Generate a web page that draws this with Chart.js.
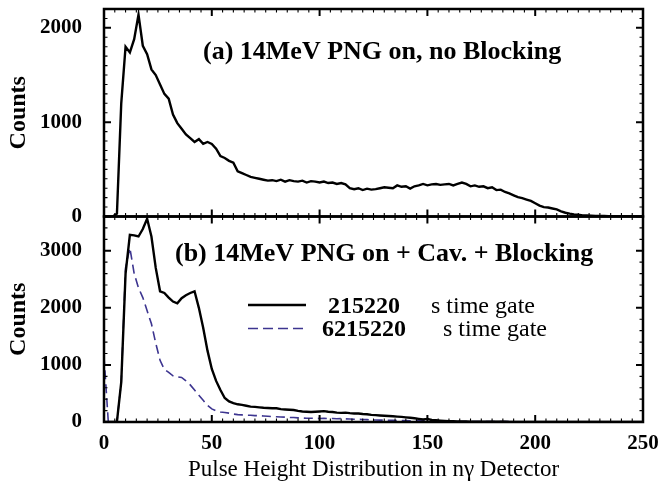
<!DOCTYPE html>
<html>
<head>
<meta charset="utf-8">
<script src="https://cdn.jsdelivr.net/npm/chart.js@4/dist/chart.umd.min.js"></script>
<style>
  html, body { margin: 0; padding: 0; background: #fff; }
</style>
</head>
<body>
<canvas id="pulse" width="660" height="485"></canvas>
<script>
// channel bins, 2 channels wide
const channels = Array.from({ length: 126 }, (_, i) => i * 2);

// (a) 14MeV PNG on, no blocking
const countsA = [
  0, 0, 0, 30, 1200, 1800, 1740, 1880, 2140, 1810,
  1720, 1560, 1500, 1400, 1300, 1250, 1080, 990, 930, 870,
  830, 790, 820, 770, 790, 770, 720, 640, 620, 590,
  570, 480, 460, 440, 420, 410, 400, 390, 380, 385,
  375, 390, 370, 385, 375, 370, 380, 360, 375, 370,
  360, 370, 355, 360, 345, 355, 340, 300, 290, 300,
  280, 295, 285, 290, 300, 310, 305, 300, 330, 315,
  320, 295, 320, 330, 345, 330, 340, 345, 335, 340,
  345, 330, 345, 360, 345, 320, 330, 315, 320, 300,
  310, 280, 285, 260, 245, 225, 205, 195, 180, 165,
  140, 115, 100, 95, 85, 75, 55, 40, 30, 22,
  18, 12, 10, 8, 6, 5, 5, 4, 3, 3,
  2, 2, 2, 1, 1, 1,
];

// (b) with cavity + blocking, solid gate
const countsB1 = [
  0, 0, 0, 5, 700, 2600, 3280, 3270, 3250, 3380,
  3560, 3250, 2700, 2290, 2260, 2180, 2110, 2080, 2170, 2220,
  2260, 2290, 2000, 1650, 1250, 930, 720, 560, 420, 360,
  330, 310, 300, 285, 270, 265, 257, 250, 245, 240,
  240, 225, 220, 215, 210, 195, 185, 180, 175, 180,
  185, 190, 180, 175, 165, 160, 165, 155, 150, 150,
  140, 135, 125, 120, 115, 110, 105, 100, 95, 90,
  82, 75, 65, 55, 45, 55, 35, 30, 25, 20,
  15, 12, 10, 8, 8, 7, 6, 6, 5, 5,
  5, 4, 4, 4, 3, 3, 3, 3, 3, 3,
  3, 2, 2, 2, 2, 2, 2, 2, 2, 2,
  2, 2, 2, 2, 2, 2, 2, 2, 2, 2,
  2, 2, 2, 2, 2, 2,
];

// (b) dashed gate
const countsB2 = [
  1150, 0, 0, 5, 700, 2700, 3050, 2600, 2350, 2180,
  1950, 1720, 1380, 1080, 920, 870, 810, 790, 780, 720,
  650, 560, 470, 380, 290, 230, 195, 175, 165, 155,
  140, 130, 125, 120, 118, 112, 110, 105, 100, 95,
  92, 88, 85, 80, 78, 72, 70, 66, 65, 64,
  62, 64, 60, 62, 58, 60, 55, 52, 48, 46,
  45, 42, 38, 35, 33, 32, 30, 28, 27, 25,
  25, 23, 22, 21, 20, 18, 16, 14, 13, 12,
  12, 11, 10, 10, 9, 9, 8, 8, 8, 8,
  7, 7, 6, 6, 6, 5, 5, 5, 5, 5,
  5, 4, 4, 4, 4, 4, 4, 3, 3, 3,
  3, 3, 3, 3, 3, 3, 3, 3, 3, 3,
  3, 3, 3, 3, 3, 3,
];

const xTicks = [0, 50, 100, 150, 200, 250];
const yTicksA = [0, 1000, 2000];
const yTicksB = [0, 1000, 2000, 3000];
const panelTitles = ['(a) 14MeV PNG on, no Blocking', '(b) 14MeV PNG on + Cav. + Blocking'];
const legendCodes = ['215220', '6215220'];
const legendUnits = ['s time gate', 's time gate'];
const xTitle = 'Pulse Height Distribution in n\u03b3 Detector';
const yTitle = 'Counts';

const serif = "'Liberation Serif', 'Times New Roman', serif";
const ink = '#000';
const violet = '#3d3590';

const pts = vals => vals.map((v, i) => ({ x: channels[i], y: v }));
const fixTicks = list => s => { s.ticks = list.map(v => ({ value: v })); };

const frame = {
  id: 'frame',
  afterDatasetsDraw(chart) {
    const { ctx, chartArea: a, scales } = chart;
    const x = scales.x;
    ctx.save();
    ctx.strokeStyle = ink;
    [['yA', 100], ['yB', 200]].forEach(([id, minor]) => {
      const y = scales[id];
      const top = y.top, bot = y.bottom;
      [[false, 1.1, 3.5], [true, 2, 7]].forEach(([major, lw, len]) => {
        ctx.lineWidth = lw;
        ctx.beginPath();
        for (let v = 0; v <= 250; v += 5) {
          if ((v % 50 === 0) !== major) continue;
          const px = x.getPixelForValue(v);
          ctx.moveTo(px, bot); ctx.lineTo(px, bot - len);
          ctx.moveTo(px, top); ctx.lineTo(px, top + len);
        }
        for (let v = 0; v <= y.max; v += minor) {
          if ((v % 1000 === 0) !== major) continue;
          const py = y.getPixelForValue(v);
          ctx.moveTo(a.left, py); ctx.lineTo(a.left + len, py);
          ctx.moveTo(a.right, py); ctx.lineTo(a.right - len, py);
        }
        ctx.stroke();
      });
      ctx.lineWidth = 2.5;
      ctx.strokeRect(a.left, top, a.right - a.left, bot - top);
    });

    // panel captions
    ctx.fillStyle = ink;
    ctx.textAlign = 'left';
    ctx.textBaseline = 'alphabetic';
    ctx.font = `bold 26px ${serif}`;
    ctx.fillText(panelTitles[0], a.left + 99, scales.yA.top + 50);
    ctx.fillText(panelTitles[1], a.left + 71, scales.yB.top + 44);

    // legend
    const rows = [305, 328.5];
    rows.forEach((ry, i) => {
      ctx.beginPath();
      ctx.strokeStyle = i === 0 ? ink : violet;
      ctx.lineWidth = i === 0 ? 2.5 : 1.6;
      ctx.setLineDash(i === 0 ? [] : [10, 5]);
      ctx.moveTo(248, ry); ctx.lineTo(306, ry);
      ctx.stroke();
      ctx.setLineDash([]);
      ctx.textAlign = 'center';
      ctx.font = `bold 24px ${serif}`;
      ctx.fillText(legendCodes[i], 364, ry + 7.5);
      ctx.textAlign = 'left';
      ctx.font = `24px ${serif}`;
      ctx.fillText(legendUnits[i], i === 0 ? 431 : 443, ry + 7.5);
    });
    ctx.restore();
  }
};

const tickFont = { family: serif, size: 21, weight: 'bold' };
const plain = v => String(v);
const yTitleOpts = { display: true, text: yTitle, color: ink, font: { family: serif, size: 24, weight: 'bold' }, padding: { top: 4, bottom: 0 } };
const yFit = s => { s.width = 104; s.paddingTop = 0; s.paddingBottom = 0; };

new Chart(document.getElementById('pulse'), {
  type: 'line',
  data: {
    datasets: [
      { data: pts(countsA), yAxisID: 'yA', borderColor: ink, borderWidth: 2.4 },
      { data: pts(countsB1), yAxisID: 'yB', borderColor: ink, borderWidth: 2.4 },
      { data: pts(countsB2), yAxisID: 'yB', borderColor: violet, borderWidth: 1.6, borderDash: [9, 5] },
    ],
  },
  options: {
    responsive: false,
    animation: false,
    devicePixelRatio: 1,
    layout: { padding: { left: 0, right: 17, top: 9, bottom: 0 } },
    elements: { point: { radius: 0 }, line: { tension: 0, fill: false } },
    plugins: { legend: { display: false }, tooltip: { enabled: false } },
    scales: {
      x: {
        type: 'linear', min: 0, max: 250,
        afterBuildTicks: fixTicks(xTicks),
        afterFit: s => { s.height = 63; s.paddingLeft = 0; s.paddingRight = 0; },
        grid: { display: false }, border: { display: false },
        ticks: { font: tickFont, color: ink, padding: 1, maxRotation: 0, callback: plain },
        title: { display: true, text: xTitle, color: ink, font: { family: serif, size: 23 }, padding: { top: 0, bottom: 1 } },
      },
      // stacked axes on the left are laid out last-defined on top
      yB: {
        type: 'linear', position: 'left', stack: 'panels', stackWeight: 205.5,
        min: 0, max: 3600,
        afterBuildTicks: fixTicks(yTicksB),
        afterFit: yFit,
        grid: { display: false }, border: { display: false },
        ticks: { font: tickFont, color: ink, padding: 14, callback: plain },
        title: yTitleOpts,
      },
      yA: {
        type: 'linear', position: 'left', stack: 'panels', stackWeight: 207.5,
        min: 0, max: 2200,
        afterBuildTicks: fixTicks(yTicksA),
        afterFit: yFit,
        grid: { display: false }, border: { display: false },
        ticks: { font: tickFont, color: ink, padding: 14, callback: plain },
        title: yTitleOpts,
      },
    },
  },
  plugins: [frame],
});
</script>
</body>
</html>
